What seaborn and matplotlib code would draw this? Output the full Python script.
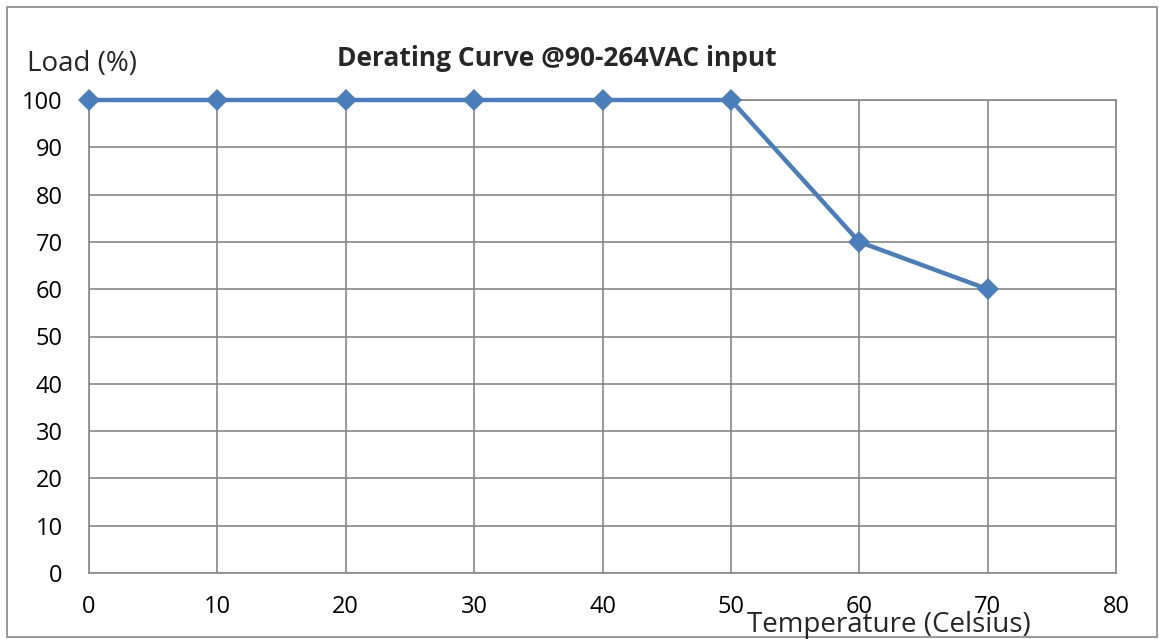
import seaborn as sns
import pandas as pd
from matplotlib import pyplot as plt
from matplotlib.patches import Rectangle

temperature = [0, 10, 20, 30, 40, 50, 60, 70]
load = [100, 100, 100, 100, 100, 100, 70, 60]
x_ticks = [0, 10, 20, 30, 40, 50, 60, 70, 80]
y_ticks = [0, 10, 20, 30, 40, 50, 60, 70, 80, 90, 100]


def plot_derating(temperature: list[int], load: list[int]) -> None:
    sns.set_style("white")
    plt.rcParams["font.family"] = ["Open Sans", "DejaVu Sans"]

    W, H = 1159, 639
    fig = plt.figure(figsize=(W / 100, H / 100), dpi=100)
    ax = fig.add_axes([89 / W, 1 - 573 / H, (1116 - 89) / W, (573 - 100) / H])

    df = pd.DataFrame({"Temperature": temperature, "Load": load})
    sns.lineplot(data=df, x="Temperature", y="Load", ax=ax, color="#4A7EBB",
                 linewidth=3.2, marker="D", markersize=11, markeredgewidth=0,
                 zorder=5, clip_on=False)

    ax.set_xlim(0, 80)
    ax.set_ylim(0, 100)
    ax.set_xticks(x_ticks)
    ax.set_yticks(y_ticks)
    ax.grid(True, color="#888888", linewidth=1.2)
    for s in ax.spines.values():
        s.set_color("#888888")
        s.set_linewidth(1.2)
    ax.tick_params(axis="both", length=0, labelsize=17, colors="black")
    ax.tick_params(axis="x", pad=16)
    ax.tick_params(axis="y", pad=19)
    ax.set_xlabel("")
    ax.set_ylabel("")

    fig.text(27 / W, 1 - 71 / H, "Load (%)", fontsize=20, va="baseline", ha="left")
    fig.text(557 / W, 1 - 66 / H, "Derating Curve @90-264VAC input", fontsize=19,
             fontweight="bold", va="baseline", ha="center")
    fig.text(889 / W, 1 - 632 / H, "Temperature (Celsius)", fontsize=20,
             va="baseline", ha="center")

    fig.patches.append(Rectangle((7 / W, 2 / H), 1150 / W, 1 - 9 / H,
                                 transform=fig.transFigure, fill=False,
                                 edgecolor="#888888", linewidth=1.2))

    fig.savefig("out.png", dpi=100)


if __name__ == "__main__":
    plot_derating(temperature, load)
